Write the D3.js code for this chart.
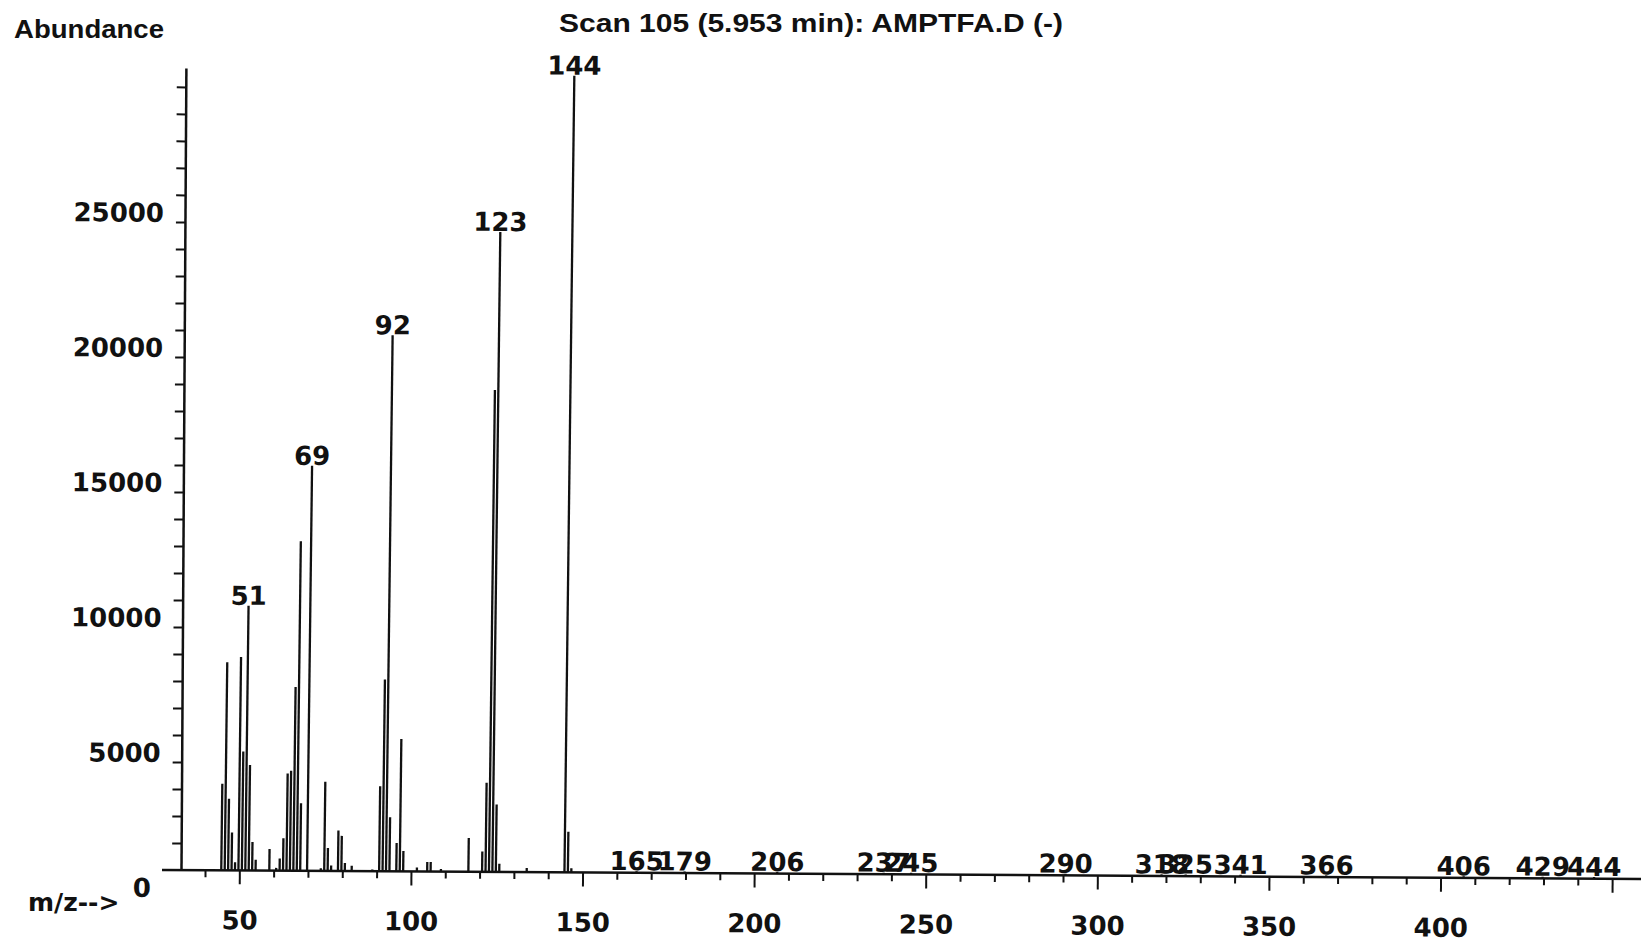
<!DOCTYPE html>
<html>
<head>
<meta charset="utf-8">
<script src="https://cdn.jsdelivr.net/npm/d3@7"></script>
<style>
  body { margin: 0; background: #fff; }
</style>
</head>
<body>
<svg id="chart" width="1641" height="942"></svg>
<script>
const title = "Scan 105 (5.953 min): AMPTFA.D (-)";

// m/z of each stick and its abundance
const mz = [44, 45, 46, 47, 48, 49, 50, 51, 52, 53, 54,
            58, 60, 61, 62, 63, 64, 65, 66, 67, 69,
            73, 74, 75, 76, 78, 79, 80, 82, 88,
            90, 91, 92, 93, 95, 96, 97, 101, 104, 105, 108,
            116, 120, 121, 122, 123, 124, 125, 133,
            144, 145, 146,
            165, 179, 206, 237, 245, 290, 318, 325, 341, 366, 406, 429, 444];
const abundance = [3200, 7700, 2650, 1400, 300, 7900, 4400, 9800, 3900, 1050, 400,
                   800, 100, 450, 1200, 3600, 3700, 6800, 12200, 2500, 15000,
                   100, 3300, 850, 200, 1500, 1300, 300, 200, 60,
                   3150, 7100, 19850, 2000, 1050, 4900, 750, 150, 350, 350, 100,
                   1250, 750, 3300, 17850, 23700, 2500, 300, 150,
                   29500, 1500, 150,
                   60, 60, 60, 60, 60, 60, 60, 60, 60, 60, 60, 60, 60];
const labelled = [51, 69, 92, 123, 144, 165, 179, 206, 237, 245, 290, 318, 325, 341, 366, 406, 429, 444];

const yTicks = d3.range(0, 29001, 1000);
const yLabels = [0, 5000, 10000, 15000, 20000, 25000];
const xTicks = d3.range(40, 451, 10);
const xLabels = [50, 100, 150, 200, 250, 300, 350, 400];

const ink = "#111";
const numFont = "DejaVu Sans";
const svg = d3.select("#chart");

const x = d3.scaleLinear().domain([33, 458.4]).range([181, 1641]);
const y = d3.scaleLinear().domain([0, 29700]).range([870, 68]);
const x0 = x.range()[0], y0 = y(0);

// the print is slightly skewed, so the plot is turned a little
const plot = svg.append("g").attr("transform", `rotate(0.35 ${x0} ${y0})`);

// y axis
const yAxis = plot.append("g")
    .attr("transform", `translate(${x0},0)`)
    .call(d3.axisLeft(y).tickValues(yTicks).tickSize(9).tickSizeOuter(0).tickPadding(12)
        .tickFormat(d => yLabels.includes(d) ? d : ""))
    .attr("font-family", numFont)
    .attr("font-size", 26)
    .attr("font-weight", "bold");
yAxis.select(".domain").attr("stroke", ink).attr("stroke-width", 2.5);
yAxis.selectAll(".tick line").attr("stroke", ink).attr("stroke-width", 2);
yAxis.selectAll(".tick text").attr("fill", ink).attr("dy", "1.02em");
yAxis.selectAll(".tick").filter(d => d === 0).select("line").remove();
yAxis.selectAll(".tick").filter(d => d === 0).select("text").attr("x", -30);

// x axis
const xAxis = plot.append("g")
    .attr("transform", `translate(0,${y0})`)
    .call(d3.axisBottom(x).tickValues(xTicks).tickSize(7)
        .tickFormat(d => xLabels.includes(d) ? d : ""))
    .attr("font-family", numFont)
    .attr("font-size", 26)
    .attr("font-weight", "bold");
xAxis.select(".domain").remove();
xAxis.selectAll(".tick line")
    .attr("stroke", ink).attr("stroke-width", 2)
    .attr("y2", d => d % 50 === 0 ? 14 : 7);
xAxis.selectAll(".tick text").attr("fill", ink).attr("y", 59).attr("dy", 0);

plot.append("line")
    .attr("x1", 162).attr("x2", 1660)
    .attr("y1", y0).attr("y2", y0)
    .attr("stroke", ink).attr("stroke-width", 2.5);

// plotter pen leans a touch to the right
const sticks = plot.append("g")
    .attr("transform", `translate(2.5,0) translate(0,${y0}) skewX(-0.36) translate(0,${-y0})`);

const peaks = mz.map((m, i) => ({m: m, v: abundance[i]}));
sticks.append("g").selectAll("line")
    .data(peaks)
    .join("line")
    .attr("x1", d => x(d.m)).attr("x2", d => x(d.m))
    .attr("y1", y0).attr("y2", d => y(d.v))
    .attr("stroke", ink)
    .attr("stroke-width", 2.3);

// peak labels
sticks.append("g").selectAll("text")
    .data(peaks.filter(d => labelled.includes(d.m)))
    .join("text")
    .attr("x", d => x(d.m))
    .attr("y", d => y(d.v) - 1)
    .attr("text-anchor", "middle")
    .attr("font-family", numFont)
    .attr("font-size", 26)
    .attr("font-weight", "bold")
    .attr("fill", ink)
    .text(d => d.m);

// titles
svg.append("text")
    .attr("x", 811).attr("y", 32)
    .attr("text-anchor", "middle")
    .attr("font-family", "Liberation Sans")
    .attr("font-size", 25)
    .attr("font-weight", "bold")
    .attr("textLength", 504)
    .attr("lengthAdjust", "spacingAndGlyphs")
    .attr("fill", ink)
    .text(title);

svg.append("text")
    .attr("x", 14).attr("y", 38)
    .attr("font-family", "Liberation Sans")
    .attr("font-size", 25)
    .attr("font-weight", "bold")
    .attr("textLength", 150)
    .attr("lengthAdjust", "spacingAndGlyphs")
    .attr("fill", ink)
    .text("Abundance");

svg.append("text")
    .attr("x", 28).attr("y", 911)
    .attr("font-family", numFont)
    .attr("font-size", 25)
    .attr("font-weight", "bold")
    .attr("fill", ink)
    .text("m/z-->");
</script>
</body>
</html>
